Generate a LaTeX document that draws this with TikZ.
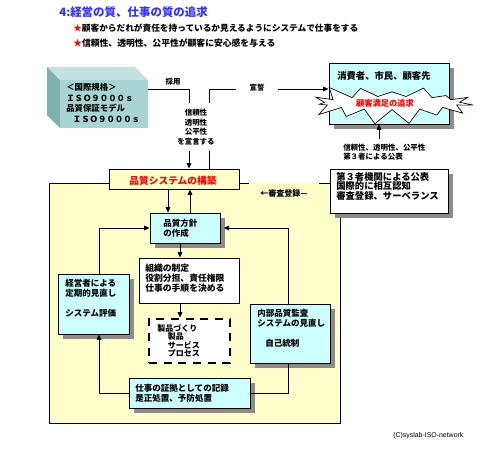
\documentclass[tikz,border=0pt]{standalone}
\usepackage{fontspec}
\setmainfont{Liberation Sans}
\newfontfamily\jp{Noto Sans CJK JP}
\usetikzlibrary{shapes.symbols,arrows.meta,fit,shadows}
\definecolor{cy}{HTML}{CCFFFF}
\definecolor{yl}{HTML}{FFFFCC}
\definecolor{sh}{HTML}{8C8C8C}
\definecolor{tb}{HTML}{3333FF}
\definecolor{isof}{HTML}{A9D4D4}
\definecolor{isot}{HTML}{C4E2E2}
\definecolor{isol}{HTML}{7FB0B0}
\begin{document}
\begin{tikzpicture}[x=0.75pt,y=-0.75pt,
  bx/.style={draw=black, line width=0.7pt, inner sep=0},
  shd/.style={drop shadow={shadow xshift=4pt,shadow yshift=-4pt,fill=sh,opacity=1}},
  t/.style={inner sep=0, anchor=north west, align=left, font=\jp\bfseries\fontsize{6.4}{7.5}\selectfont},
  ts/.style={inner sep=0, font=\jp\bfseries\fontsize{5.6}{7}\selectfont},
  arr/.style={-{Triangle[length=4pt,width=3.5pt]}, line width=0.6pt},
  ln/.style={line width=0.6pt}]
\useasboundingbox (0,0) rectangle (500,450);
% helper coordinates
\coordinate (ay) at (0,89);
\coordinate (ax) at (189,0);
\coordinate (bx) at (209,0);
\coordinate (spine) at (180,0);
\coordinate (dn) at (168,0);
\coordinate (up) at (190,0);
% title
\node[anchor=west, inner sep=0, text=tb, font=\jp\bfseries\fontsize{8.6}{10}\selectfont] (title) at (59,12) {4:経営の質、仕事の質の追求};
\node[anchor=west, inner sep=0, font=\jp\bfseries\fontsize{6.5}{8}\selectfont] (l2) at (73,28) {\textcolor{red}{★}顧客からだれが責任を持っているか見えるようにシステムで仕事をする};
\node[anchor=west, inner sep=0, font=\jp\bfseries\fontsize{6.6}{8}\selectfont] (l3) at (73,43) {\textcolor{red}{★}信頼性、透明性、公平性が顧客に安心感を与える};
% 3D ISO box
\fill[isot] (47,67) -- (135,67) -- (148,80) -- (60,80) -- cycle;
\fill[isol] (47,67) -- (60,80) -- (60,128) -- (47,115) -- cycle;
\node[fit={(60,80) (148,128)}, inner sep=0, fill=isof] (iso) {};
\node[t, font=\jp\bfseries\fontsize{6.3}{8}\selectfont] (isotxt) at (66,83) {＜国際規格＞\\ＩＳＯ９０００ｓ\\品質保証モデル\\\hspace*{5pt}ＩＳＯ９０００ｓ};
% customer box
\node[bx, fill=cy, shd, fit={(329,63) (449,124)}] (cust) {};
\node[starburst, draw, fill=white, line width=0.5pt, minimum width=128pt, minimum height=36pt, starburst point height=13pt, starburst points=15, random starburst=23] (burst) at (392,103) {};
\node[inner sep=0, text=red, font=\jp\bfseries\fontsize{6.2}{7}\selectfont] (cs) at (385,103) {顧客満足の追求};
\node[t, font=\jp\bfseries\fontsize{7}{8}\selectfont] (custtxt) at (337,71) {消費者、市民、顧客先};
% base yellow box
\node[bx, fill=yl, fit={(49,183) (340,423)}] (base) {};
% third party box
\node[bx, fill=white, shd, fit={(330,169) (448,213)}] (third) {};
\node[t, font=\jp\bfseries\fontsize{7}{7.1}\selectfont] (thirdtxt) at (336,172) {第３者機関による公表\\国際的に相互認知\\審査登録、サーベランス};
% publication text
\node[ts, anchor=north west, align=left, font=\jp\bfseries\fontsize{5.6}{6.75}\selectfont] (pubtxt) at (343,144) {信頼性、透明性、公平性\\第３者による公表};
\coordinate (pubtop) at (379,139);
\draw[arr] (pubtop) -- (pubtop |- cust.south);
% quality system box
\node[bx, fill=yl, fit={(109,169) (239,189)}] (qs) {};
\node[inner sep=0, text=red, font=\jp\bfseries\fontsize{7.3}{8}\selectfont] (qstxt) at (173,181) {品質システムの構築};
\node[ts, fill=yl, minimum width=53pt, minimum height=16.5pt, font=\jp\bfseries\fontsize{6}{7}\selectfont] (reg) at (284,193) {←審査登録—};
% policy box
\node[bx, fill=cy, shd, fit={(150,213) (220,243)}] (pol) {};
\node[t] (poltxt) at (163,219) {品質方針\\の作成};
% organisation box
\node[bx, fill=white, fit={(139,258) (239,303)}] (org) {};
\node[t, font=\jp\bfseries\fontsize{6.6}{7.5}\selectfont] (orgtxt) at (145,264) {組織の制定\\役割分担、責任権限\\仕事の手順を決める};
% product box
\node[draw, line width=2.2pt, dash pattern=on 6pt off 5pt, fill=white, inner sep=0, fit={(149,319) (230,363)}] (prod) {};
\node[t, font=\jp\bfseries\fontsize{6}{6.4}\selectfont] (prodtxt) at (157,324) {製品づくり\\\hspace*{8pt}製品\\\hspace*{8pt}サービス\\\hspace*{8pt}プロセス};
% management review box
\node[bx, fill=cy, shd, fit={(58,274) (129,334)}] (mgmt) {};
\node[t] (mgmttxt) at (65,279) {経営者による\\定期的見直し\\[7.5pt]システム評価};
% internal audit box
\node[bx, fill=cy, shd, fit={(250,304) (330,363)}] (audit) {};
\node[t] (audittxt) at (257,309) {内部品質監査\\システムの見直し\\[7.5pt]\hspace*{6pt}自己統制};
% records box
\node[bx, fill=cy, shd, fit={(129,378) (250,408)}] (rec) {};
\node[t] (rectxt) at (135,384) {仕事の証拠としての記録\\是正処置、予防処置};
% connectors
\draw[arr] (iso.east |- ay) -| (qs.north -| ax);
\draw[arr] (qs.north -| bx) |- (cust.west |- ay);
\node[ts, anchor=south] (adopt) at (173,86) {採用};
\node[ts, fill=white, inner xsep=10pt, inner ysep=1pt] (oath) at (257,88) {宣誓};
\node[ts, fill=white, align=center, inner xsep=1pt, inner ysep=5pt, font=\jp\bfseries\fontsize{5.6}{7.1}\selectfont] (decl) at (196,127) {信頼性\\透明性\\公平性\\を宣言する};
\draw[arr] (qs.south -| dn) -- (pol.north -| dn);
\draw[arr] (pol.north -| up) -- (qs.south -| up);
\draw[arr] ([xshift=4.1pt]mgmt.north) |- (pol.west);
\draw[arr] ([xshift=-1.5pt]audit.north) |- ([xshift=2.5pt]pol.east);
\draw[arr] (pol.south -| spine) -- (org.north -| spine);
\draw[arr] (org.south -| spine) -- (prod.north -| spine);
\draw[arr] (rec.west) -| ([xshift=4.1pt]mgmt.south);
\draw[ln] ([xshift=-1.5pt]audit.south) |- (rec.east);
% copyright
\node[anchor=west, inner sep=0, font=\fontsize{5.2}{6}\selectfont] (copy) at (393,436) {(C)syslab-ISO-network};
\end{tikzpicture}
\end{document}
